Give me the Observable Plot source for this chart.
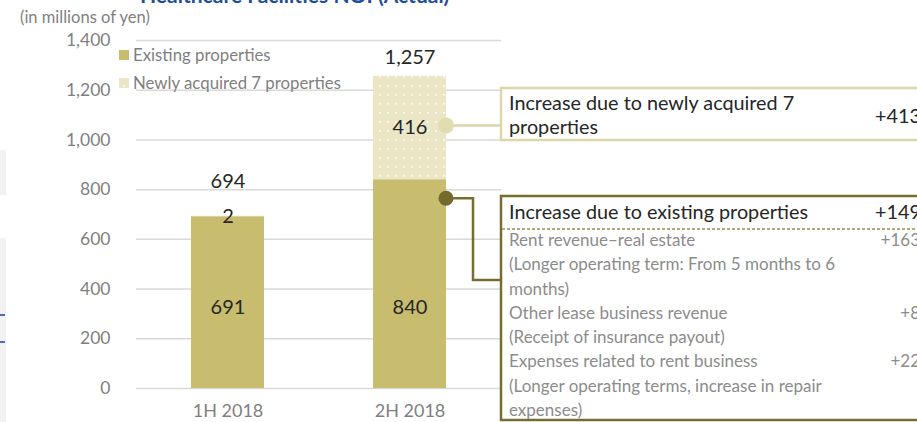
<!DOCTYPE html>
<html><head><meta charset="utf-8">
<script src="https://cdn.jsdelivr.net/npm/d3@7"></script>
<script src="https://cdn.jsdelivr.net/npm/@observablehq/plot@0.6"></script>
<style>
html,body{margin:0;padding:0;overflow:hidden;background:#fff;font-family:Lato,"Open Sans",sans-serif}
#wrap{position:relative;width:917px;height:422px;overflow:hidden}
.side{position:absolute;left:0;width:6px;background:#f2f2f2}
.blue{position:absolute;left:0;width:5px;height:2px;background:#4a6fb5}
</style></head><body>
<div id="wrap">
  <div class="side" style="top:150px;height:45px"></div>
  <div class="side" style="top:238px;height:184px"></div>
  <div class="blue" style="top:314px"></div>
  <div class="blue" style="top:341px"></div>
</div>
<script>
// ---- data ----
const title = "Healthcare Facilities NOI (Actual)";
const unitLabel = "(in millions of yen)";
const periods = ["1H 2018", "2H 2018"];
const existing = [691, 840];
const newlyAcquired = [2, 416];
const totals = [694, 1257];
const totalLabels = ["694", "1,257"];
const yTicks = [0, 200, 400, 600, 800, 1000, 1200, 1400];
const seriesNames = ["Existing properties", "Newly acquired 7 properties"];
const newlyBoxLines = ["Increase due to newly acquired 7", "properties"];
const newlyBoxValue = "+413";
const existingHeader = "Increase due to existing properties";
const existingHeaderValue = "+149";
const breakdownLabels = [
  "Rent revenue\u2013real estate",
  "(Longer operating term: From 5 months to 6",
  "months)",
  "Other lease business revenue",
  "(Receipt of insurance payout)",
  "Expenses related to rent business",
  "(Longer operating terms, increase in repair",
  "expenses)"
];
const breakdownValues = ["+163", "", "", "+8", "", "+22", "", ""];

const rows = periods.map((p, i) => ({
  period: p, existing: existing[i], newly: newlyAcquired[i], total: totals[i], totalLabel: totalLabels[i], i
}));

const cExisting = "#c8bc6e";
const cNewly = "#ebe6c6";
const cDark = "#776d30";
const cLight = "#ddd6a8";
const gray = "#7f7f7f";
const FONT = "Lato, 'Open Sans', sans-serif";

const defsMark = () => {
  const s = d3.create("svg:defs");
  const p = s.append("pattern").attr("id", "dots").attr("patternUnits", "userSpaceOnUse")
    .attr("width", 8).attr("height", 9);
  p.append("rect").attr("width", 8).attr("height", 9).attr("fill", cNewly);
  p.append("rect").attr("x", 3).attr("y", 4).attr("width", 1.6).attr("height", 1.6).attr("fill", "#ffffff");
  return s.node();
};

const plot = Plot.plot({
  width: 917, height: 422,
  marginTop: 40, marginBottom: 34, marginLeft: 136, marginRight: 416,
  style: {fontFamily: FONT, fontSize: "16px", background: "transparent"},
  x: {domain: periods, paddingInner: 0.6, paddingOuter: 0.302, label: null},
  y: {domain: [0, 1400], label: null},
  marks: [
    defsMark,
    Plot.gridY(yTicks, {stroke: "#d9d9d9", strokeOpacity: 1, strokeWidth: 1.5}),
    Plot.axisY({ticks: yTicks, tickFormat: d3.format(","), tickSize: 0, tickPadding: 26, fontSize: 17.5, color: gray}),
    Plot.axisX({tickSize: 0, tickPadding: 16, fontSize: 18, color: gray}),
    Plot.barY(rows, {x: "period", y1: 0, y2: "existing", fill: cExisting}),
    Plot.barY(rows, {x: "period", y1: "existing", y2: d => d.existing + d.newly, fill: "url(#dots)"}),
    Plot.text(rows, {x: "period", y: () => 325, text: d => String(d.existing), fontSize: 20, fill: "#262626"}),
    Plot.text(rows, {x: "period", y: d => d.existing + d.newly / 2, text: d => String(d.newly), fontSize: 20, fill: "#262626"}),
    Plot.text(rows.filter(d => d.i === 0), {x: "period", y: "total", text: "totalLabel", dy: -34, fontSize: 20, fill: "#262626"}),
    Plot.text(rows.filter(d => d.i === 1), {x: "period", y: "total", text: "totalLabel", dy: -18, fontSize: 20, fill: "#262626"})
  ]
});

document.getElementById("wrap").appendChild(plot);
plot.style.position = "absolute";
plot.style.left = "0px";
plot.style.top = "0px";
plot.style.overflow = "hidden";

const xs = plot.scale("x"), ys = plot.scale("y");
const svg = d3.select(plot);
const g = svg.append("g").attr("font-family", FONT).attr("text-anchor", "start");

// title (clipped at top) and unit label
g.append("text").attr("x", 140).attr("y", 3).attr("font-size", 21).attr("font-weight", "bold")
  .attr("fill", "#1f4e9b").text(title);
g.append("text").attr("x", 20).attr("y", 17).attr("dy", "0.35em").attr("font-size", 16.5)
  .attr("fill", gray).text(unitLabel);

// legend
seriesNames.forEach((name, k) => {
  const cy = 55 + k * 28;
  g.append("rect").attr("x", 119).attr("y", cy - 5).attr("width", 10).attr("height", 10)
    .attr("fill", k === 0 ? cExisting : "url(#dots)");
  g.append("text").attr("x", 133).attr("y", cy).attr("dy", "0.35em").attr("font-size", 16.8)
    .attr("fill", gray).text(name);
});

// connectors
const bandRight = xs.apply(periods[1]) + xs.bandwidth;
const boxX = 501;
const newlyCy = ys.apply(existing[1] + newlyAcquired[1] / 2) - 2;
const exCy = ys.apply(existing[1]) + 19;

// box 1
g.append("line").attr("x1", bandRight).attr("x2", boxX).attr("y1", newlyCy).attr("y2", newlyCy)
  .attr("stroke", cLight).attr("stroke-width", 2.5);
g.append("rect").attr("x", boxX).attr("y", 88).attr("width", 440).attr("height", 52)
  .attr("fill", "#fff").attr("stroke", cLight).attr("stroke-width", 2.5);
g.append("circle").attr("cx", bandRight).attr("cy", newlyCy).attr("r", 8).attr("fill", "#e2dcb2");
newlyBoxLines.forEach((t, k) => {
  g.append("text").attr("x", 509).attr("y", 103 + k * 24).attr("dy", "0.35em").attr("font-size", 19.8)
    .attr("fill", "#262626").text(t);
});
g.append("text").attr("x", 921).attr("y", 116).attr("dy", "0.35em").attr("font-size", 19.8)
  .attr("text-anchor", "end").attr("fill", "#262626").text(newlyBoxValue);

// box 2
g.append("path").attr("d", `M${bandRight},${exCy}H473V280H${boxX}`).attr("fill", "none")
  .attr("stroke", cDark).attr("stroke-width", 2.5);
g.append("rect").attr("x", boxX).attr("y", 196).attr("width", 440).attr("height", 224)
  .attr("fill", "#fff").attr("stroke", cDark).attr("stroke-width", 2.5);
g.append("circle").attr("cx", bandRight).attr("cy", exCy).attr("r", 7.5).attr("fill", "#746a2e");
g.append("text").attr("x", 509).attr("y", 212).attr("dy", "0.35em").attr("font-size", 19.8)
  .attr("fill", "#262626").text(existingHeader);
g.append("text").attr("x", 921).attr("y", 212).attr("dy", "0.35em").attr("font-size", 19.8)
  .attr("text-anchor", "end").attr("fill", "#262626").text(existingHeaderValue);
g.append("line").attr("x1", boxX + 1).attr("x2", 917).attr("y1", 229).attr("y2", 229)
  .attr("stroke", "#9a8f4f").attr("stroke-width", 1.5).attr("stroke-dasharray", "3,2");
breakdownLabels.forEach((t, k) => {
  const yy = 240 + k * 24.3;
  g.append("text").attr("x", 509).attr("y", yy).attr("dy", "0.35em").attr("font-size", 17)
    .attr("fill", "#8c8c8c").text(t);
  if (breakdownValues[k]) g.append("text").attr("x", 920).attr("y", yy).attr("dy", "0.35em")
    .attr("font-size", 17).attr("text-anchor", "end").attr("fill", "#8c8c8c").text(breakdownValues[k]);
});
</script>
</body></html>
